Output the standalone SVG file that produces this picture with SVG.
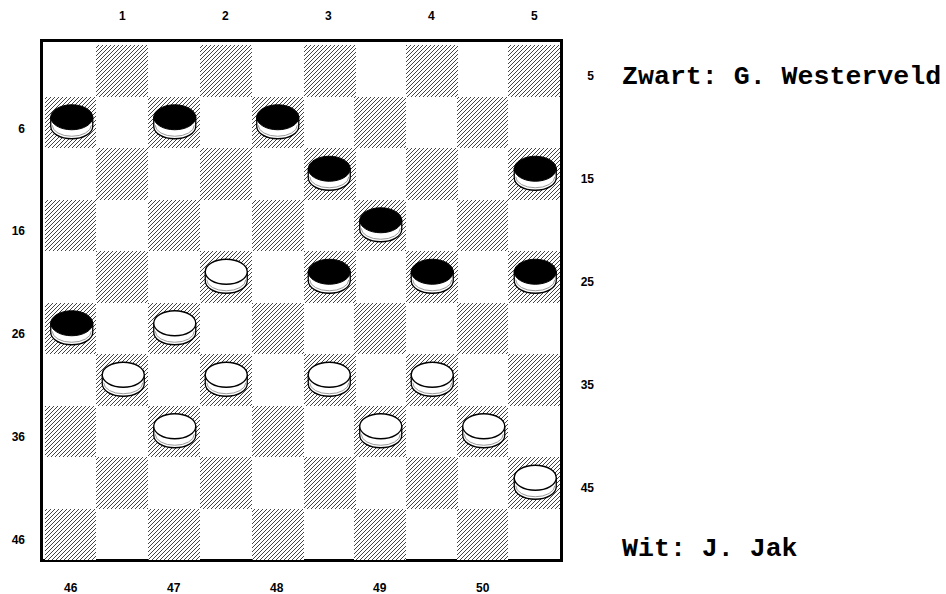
<svg xmlns="http://www.w3.org/2000/svg" xmlns:xlink="http://www.w3.org/1999/xlink" width="946" height="594" viewBox="0 0 946 594">
<style>
.lbl{font-family:"Liberation Sans",Arial,sans-serif;font-weight:bold;font-size:12px;fill:#000}
.name{font-family:"Liberation Mono","Courier New",monospace;font-weight:bold;font-size:26.6px;fill:#000}
.dark{fill:url(#hatch)}
.side{fill:#fff;stroke:#000;stroke-width:1.3}
.inner{fill:none;stroke:#999;stroke-width:1}
.topB{fill:#000;stroke:#000;stroke-width:1}
.topW{fill:#fff;stroke:#000;stroke-width:1.3}
</style>
<defs>
<pattern id="hatch" patternUnits="userSpaceOnUse" width="4" height="4">
<rect width="4" height="4" fill="#fff"/>
<rect x="3" y="0" width="1" height="1" fill="#444"/>
<rect x="2" y="1" width="1" height="1" fill="#444"/>
<rect x="1" y="2" width="1" height="1" fill="#444"/>
<rect x="0" y="3" width="1" height="1" fill="#444"/>
</pattern>
<g id="bp">
<path class="side" d="M-20,-5 L-20,4 A21 12.5 0 0 0 22,4 L22,-5 Z"/>
<path class="inner" d="M-18.5,3 A19.5 11 0 0 0 20.5,3"/>
<ellipse class="topB" cx="1" cy="-5" rx="21" ry="12.5"/>
</g>
<g id="wp">
<path class="side" d="M-20,-5 L-20,4 A21 12.5 0 0 0 22,4 L22,-5 Z"/>
<path class="inner" d="M-18.5,3 A19.5 11 0 0 0 20.5,3"/>
<ellipse class="topW" cx="1" cy="-5" rx="21" ry="12.5"/>
</g>
</defs>
<rect width="946" height="594" fill="#fff"/>
<g id="board">
<rect x="41.5" y="40.5" width="520" height="520" fill="#fff" stroke="#000" stroke-width="3"/>
<g id="squares">
<rect class="dark" x="96" y="45" width="52" height="52"/><rect class="dark" x="200" y="45" width="52" height="52"/><rect class="dark" x="304" y="45" width="52" height="52"/><rect class="dark" x="406" y="45" width="52" height="52"/><rect class="dark" x="508" y="45" width="52" height="52"/>
<rect class="dark" x="45" y="97" width="51" height="51"/><rect class="dark" x="148" y="97" width="52" height="51"/><rect class="dark" x="252" y="97" width="52" height="51"/><rect class="dark" x="354" y="97" width="52" height="51"/><rect class="dark" x="457" y="97" width="51" height="51"/>
<rect class="dark" x="96" y="148" width="52" height="52"/><rect class="dark" x="200" y="148" width="52" height="52"/><rect class="dark" x="304" y="148" width="52" height="52"/><rect class="dark" x="406" y="148" width="52" height="52"/><rect class="dark" x="508" y="148" width="52" height="52"/>
<rect class="dark" x="45" y="200" width="51" height="51"/><rect class="dark" x="148" y="200" width="52" height="51"/><rect class="dark" x="252" y="200" width="52" height="51"/><rect class="dark" x="354" y="200" width="52" height="51"/><rect class="dark" x="457" y="200" width="51" height="51"/>
<rect class="dark" x="96" y="251" width="52" height="52"/><rect class="dark" x="200" y="251" width="52" height="52"/><rect class="dark" x="304" y="251" width="52" height="52"/><rect class="dark" x="406" y="251" width="52" height="52"/><rect class="dark" x="508" y="251" width="52" height="52"/>
<rect class="dark" x="45" y="303" width="51" height="51"/><rect class="dark" x="148" y="303" width="52" height="51"/><rect class="dark" x="252" y="303" width="52" height="51"/><rect class="dark" x="354" y="303" width="52" height="51"/><rect class="dark" x="457" y="303" width="51" height="51"/>
<rect class="dark" x="96" y="354" width="52" height="52"/><rect class="dark" x="200" y="354" width="52" height="52"/><rect class="dark" x="304" y="354" width="52" height="52"/><rect class="dark" x="406" y="354" width="52" height="52"/><rect class="dark" x="508" y="354" width="52" height="52"/>
<rect class="dark" x="45" y="406" width="51" height="51"/><rect class="dark" x="148" y="406" width="52" height="51"/><rect class="dark" x="252" y="406" width="52" height="51"/><rect class="dark" x="354" y="406" width="52" height="51"/><rect class="dark" x="457" y="406" width="51" height="51"/>
<rect class="dark" x="96" y="457" width="52" height="52"/><rect class="dark" x="200" y="457" width="52" height="52"/><rect class="dark" x="304" y="457" width="52" height="52"/><rect class="dark" x="406" y="457" width="52" height="52"/><rect class="dark" x="508" y="457" width="52" height="52"/>
<rect class="dark" x="45" y="509" width="51" height="51"/><rect class="dark" x="148" y="509" width="52" height="51"/><rect class="dark" x="252" y="509" width="52" height="51"/><rect class="dark" x="354" y="509" width="52" height="51"/><rect class="dark" x="457" y="509" width="51" height="51"/>
</g>
</g>
<g id="black-pieces">
<use id="b6" xlink:href="#bp" x="70.75" y="122.25"/>
<use id="b7" xlink:href="#bp" x="173.75" y="122.25"/>
<use id="b8" xlink:href="#bp" x="276.75" y="122.25"/>
<use id="b13" xlink:href="#bp" x="328.25" y="173.75"/>
<use id="b15" xlink:href="#bp" x="534.25" y="173.75"/>
<use id="b19" xlink:href="#bp" x="379.75" y="225.25"/>
<use id="b23" xlink:href="#bp" x="328.25" y="276.75"/>
<use id="b24" xlink:href="#bp" x="431.25" y="276.75"/>
<use id="b25" xlink:href="#bp" x="534.25" y="276.75"/>
<use id="b26" xlink:href="#bp" x="70.75" y="328.25"/>
</g>
<g id="white-pieces">
<use id="w22" xlink:href="#wp" x="225.25" y="276.75"/>
<use id="w27" xlink:href="#wp" x="173.75" y="328.25"/>
<use id="w31" xlink:href="#wp" x="122.25" y="379.75"/>
<use id="w32" xlink:href="#wp" x="225.25" y="379.75"/>
<use id="w33" xlink:href="#wp" x="328.25" y="379.75"/>
<use id="w34" xlink:href="#wp" x="431.25" y="379.75"/>
<use id="w37" xlink:href="#wp" x="173.75" y="431.25"/>
<use id="w39" xlink:href="#wp" x="379.75" y="431.25"/>
<use id="w40" xlink:href="#wp" x="482.75" y="431.25"/>
<use id="w45" xlink:href="#wp" x="534.25" y="482.75"/>
</g>
<g id="labels" class="lbl">
<text x="122.25" y="19.5" text-anchor="middle">1</text>
<text x="225.25" y="19.5" text-anchor="middle">2</text>
<text x="328.25" y="19.5" text-anchor="middle">3</text>
<text x="431.25" y="19.5" text-anchor="middle">4</text>
<text x="534.25" y="19.5" text-anchor="middle">5</text>
<text x="25" y="132.5" text-anchor="end">6</text>
<text x="25" y="235" text-anchor="end">16</text>
<text x="25" y="338" text-anchor="end">26</text>
<text x="25" y="441" text-anchor="end">36</text>
<text x="25" y="544" text-anchor="end">46</text>
<text x="594" y="80" text-anchor="end">5</text>
<text x="594" y="183" text-anchor="end">15</text>
<text x="594" y="286" text-anchor="end">25</text>
<text x="594" y="389" text-anchor="end">35</text>
<text x="594" y="492" text-anchor="end">45</text>
<text x="70.75" y="592" text-anchor="middle">46</text>
<text x="173.75" y="592" text-anchor="middle">47</text>
<text x="276.75" y="592" text-anchor="middle">48</text>
<text x="379.75" y="592" text-anchor="middle">49</text>
<text x="482.75" y="592" text-anchor="middle">50</text>
</g>
<g id="players">
<text class="name" x="622" y="84">Zwart: G. Westerveld</text>
<text class="name" x="622" y="556">Wit: J. Jak</text>
</g>
</svg>
